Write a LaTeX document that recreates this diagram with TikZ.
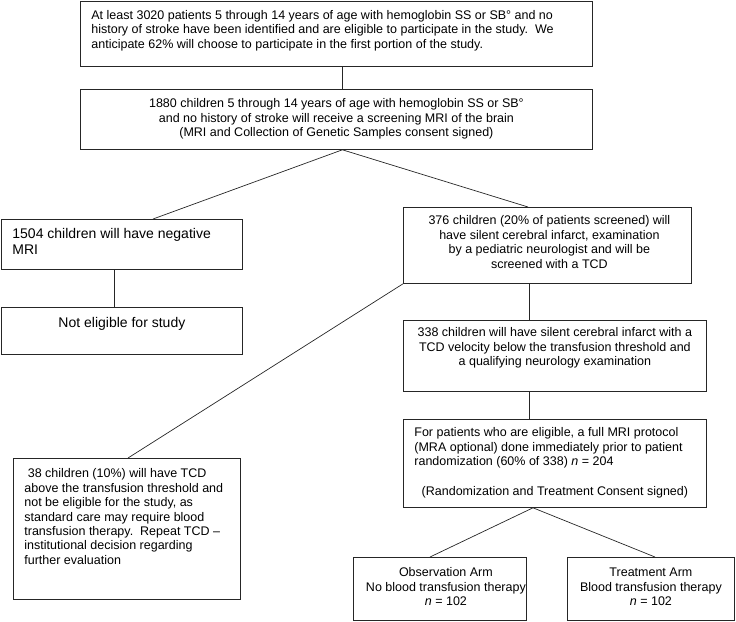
\documentclass[tikz,border=0pt]{standalone}
\usepackage{fontspec}
\setmainfont{Liberation Sans}
\usetikzlibrary{calc}
% #1 width, #2 height, #3 top padding, #4 content
\newcommand\bxt[4]{\parbox[c][#2][t]{#1}{\vspace*{#3}#4\par}}
\newcommand\lft[1]{\raggedright\leftskip=#1\relax\strut}
\newcommand\ctr[1]{\centering\leftskip=#1 plus 1fil\rightskip=0pt plus 1fil\relax\strut}
\tikzset{
  box/.style={draw=black!85, line width=0.8pt, inner sep=0pt, anchor=north west},
  conn/.style={draw=black!85, line width=0.7pt},
  big/.style={font=\fontsize{14}{16.1}\selectfont}
}
\begin{document}
\begin{tikzpicture}[x=1pt,y=-1pt,font=\fontsize{12.5}{14.4}\selectfont]
\useasboundingbox (0,0) rectangle (736,621);

\node[box] (b1) at (80,1) {\bxt{512pt}{65pt}{8pt}{\lft{11pt}At least 3020 patients 5 through 14 years of age with hemoglobin SS or SB° and no\\
history of stroke have been identified and are eligible to participate in the study.~~We\\
anticipate 62\% will choose to participate in the first portion of the study.}};

\node[box] (b2) at (80,89) {\bxt{512pt}{60pt}{8.4pt}{\ctr{0pt}1880 children 5 through 14 years of age with hemoglobin SS or SB°\\
and no history of stroke will receive a screening MRI of the brain\\
(MRI and Collection of Genetic Samples consent signed)}};

\node[box,big] (b3) at (1,219) {\bxt{241pt}{50pt}{7.7pt}{\lft{11pt}1504 children will have negative\\MRI}};

\node[box,big] (b4) at (1,307) {\bxt{241pt}{47pt}{8.7pt}{\ctr{0pt}Not eligible for study}};

\node[box] (b5) at (403,207) {\bxt{288pt}{76pt}{7.4pt}{\ctr{4pt}376 children (20\% of patients screened) will\\
have silent cerebral infarct, examination\\
by a pediatric neurologist and will be\\
screened with a TCD}};

\node[box] (b6) at (403,320) {\bxt{303pt}{71pt}{6.4pt}{\ctr{0pt}338 children will have silent cerebral infarct with a\\
TCD velocity below the transfusion threshold and\\
a qualifying neurology examination}};

\node[box] (b7) at (403,419) {\bxt{303pt}{88pt}{7.4pt}{\lft{11pt}For patients who are eligible, a full MRI protocol\\
(MRA optional) done immediately prior to patient\\
randomization (60\% of 338) \textit{n} = 204\par
\vspace{15.6pt}{\centering\leftskip=0pt plus 1fil\rightskip=0pt plus 1fil (Randomization and Treatment Consent signed)\par}}};

\node[box] (b38) at (13,458) {\bxt{227pt}{141pt}{9.5pt}{\lft{11pt}\ 38 children (10\%) will have TCD\\
above the transfusion threshold and\\
not be eligible for the study, as\\
standard care may require blood\\
transfusion therapy.~~Repeat TCD --\\
institutional decision regarding\\
further evaluation}};

\node[box] (b8) at (353,557) {\bxt{173pt}{62.5pt}{9.4pt}{\ctr{12pt}Observation Arm\\
No blood transfusion therapy\\
\textit{n} = 102}};

\node[box] (b9) at (567,557) {\bxt{167pt}{62.5pt}{9.4pt}{\ctr{0pt}Treatment Arm\\
Blood transfusion therapy\\
\textit{n} = 102}};

% connectors
\draw[conn] ([xshift=6pt]b1.south) -- ([xshift=6pt]b2.north);
\draw[conn] ([xshift=6pt]b2.south) -- ($(b3.north west)+(152,0)$);
\draw[conn] ([xshift=6pt]b2.south) -- ($(b5.north west)+(125,0)$);
\draw[conn] ($(b3.south west)+(113,0)$) -- ($(b4.north west)+(113,0)$);
\draw[conn] (b5.south west) -- ($(b38.north west)+(115,0)$);
\draw[conn] ($(b5.south west)+(126,0)$) -- ($(b6.north west)+(126,0)$);
\draw[conn] ($(b6.south west)+(126,0)$) -- ($(b7.north west)+(126,0)$);
\draw[conn] ($(b7.south west)+(130,0)$) -- ($(b8.north west)+(77,0)$);
\draw[conn] ($(b7.south west)+(130,0)$) -- ($(b9.north west)+(88,0)$);
\end{tikzpicture}
\end{document}
